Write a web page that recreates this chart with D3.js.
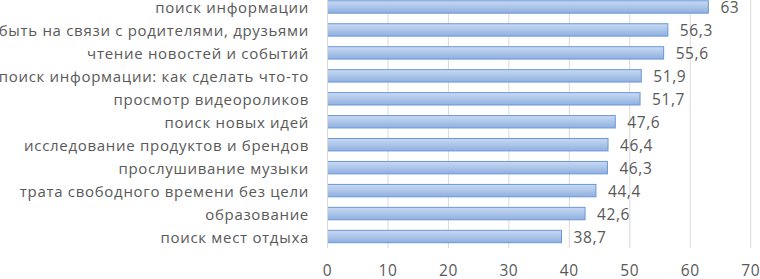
<!DOCTYPE html>
<html>
<head>
<meta charset="utf-8">
<script src="https://cdn.jsdelivr.net/npm/d3@7"></script>
<style>
  body { margin: 0; background: #fff; }
  text { font-family: "Open Sans", Lato, sans-serif; fill: #595959; }
</style>
</head>
<body>
<div id="chart"></div>
<script>
var categories = [
    'поиск информации',
    'быть на связи с родителями, друзьями',
    'чтение новостей и событий',
    'поиск информации: как сделать что-то',
    'просмотр видеороликов',
    'поиск новых идей',
    'исследование продуктов и брендов',
    'прослушивание музыки',
    'трата свободного времени без цели',
    'образование',
    'поиск мест отдыха'
];
var values = [63, 56.3, 55.6, 51.9, 51.7, 47.6, 46.4, 46.3, 44.4, 42.6, 38.7];
var valueLabels = ['63', '56,3', '55,6', '51,9', '51,7', '47,6', '46,4', '46,3', '44,4', '42,6', '38,7'];
var xTicks = [0, 10, 20, 30, 40, 50, 60, 70];

var outerWidth = 760;
var outerHeight = 279;

var svg = d3.select('#chart').append('svg')
    .attr('width', outerWidth)
    .attr('height', outerHeight);

var defs = svg.append('defs');
var grad = defs.append('linearGradient')
    .attr('id', 'barGrad')
    .attr('x1', 0).attr('y1', 0).attr('x2', 0).attr('y2', 1);
grad.append('stop').attr('offset', '0%').attr('stop-color', '#c9daf3');
grad.append('stop').attr('offset', '100%').attr('stop-color', '#8fb0e0');

var xScale = d3.scaleLinear().domain([0, 70]).range([327.5, 750.7]);
var yScale = d3.scaleBand().domain(categories).range([-4.5, 248]).paddingInner(0.46).paddingOuter(0.23);

// gridlines
svg.append('g').selectAll('line')
    .data(xTicks.slice(1))
    .enter().append('line')
    .attr('x1', function(d) { return xScale(d); })
    .attr('x2', function(d) { return xScale(d); })
    .attr('y1', 0)
    .attr('y2', 248)
    .attr('stroke', '#d9d9d9')
    .attr('stroke-width', 1);

// bars
svg.append('g').selectAll('rect')
    .data(values)
    .enter().append('rect')
    .attr('x', xScale(0))
    .attr('y', function(d, i) { return yScale(categories[i]); })
    .attr('width', function(d) { return xScale(d) - xScale(0); })
    .attr('height', yScale.bandwidth())
    .attr('fill', 'url(#barGrad)')
    .attr('stroke', '#6a98d6')
    .attr('stroke-width', 1);

// vertical axis line
svg.append('line')
    .attr('x1', xScale(0)).attr('x2', xScale(0))
    .attr('y1', 0).attr('y2', 248)
    .attr('stroke', '#d9d9d9');

// category labels
svg.append('g').selectAll('text')
    .data(categories)
    .enter().append('text')
    .attr('x', 309)
    .attr('y', function(d) { return yScale(d) + yScale.bandwidth() / 2 + 1; })
    .attr('dy', '0.35em')
    .attr('text-anchor', 'end')
    .style('font-size', '15px')
    .style('letter-spacing', '0.7px')
    .text(function(d) { return d; });

// value labels
svg.append('g').selectAll('text')
    .data(values)
    .enter().append('text')
    .attr('x', function(d) { return xScale(d) + 12; })
    .attr('y', function(d, i) { return yScale(categories[i]) + yScale.bandwidth() / 2 + 1; })
    .attr('dy', '0.35em')
    .style('font-size', '15.5px')
    .style('letter-spacing', '0.6px')
    .text(function(d, i) { return valueLabels[i]; });

// x axis tick labels
svg.append('g').selectAll('text')
    .data(xTicks)
    .enter().append('text')
    .attr('x', function(d) { return xScale(d); })
    .attr('y', 271)
    .attr('dy', '0.35em')
    .attr('text-anchor', 'middle')
    .style('font-size', '15.5px')
    .style('letter-spacing', '0.6px')
    .text(function(d) { return d; });
</script>
</body>
</html>
